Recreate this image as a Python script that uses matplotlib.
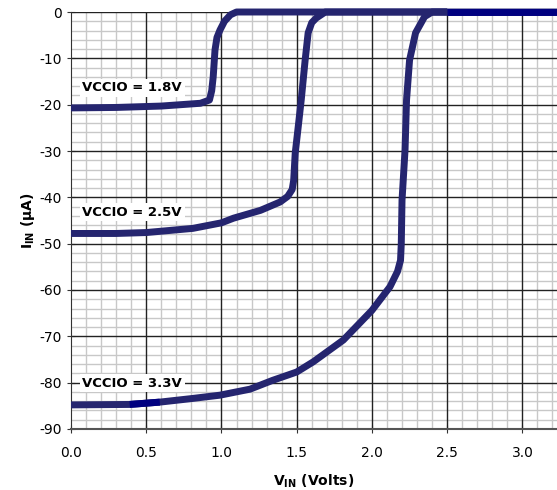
import matplotlib.pyplot as plt
from matplotlib.ticker import MultipleLocator

plt.rcParams["axes.unicode_minus"] = False

# input current vs input voltage, one curve per VCCIO
x18 = [0, 0.3, 0.6, 0.86, 0.92, 0.935, 0.945, 0.957, 0.97, 0.99, 1.02, 1.06, 1.10, 1.5, 2.0, 2.5]
y18 = [-20.7, -20.6, -20.3, -19.7, -19.0, -17.0, -14.0, -8.2, -5.5, -3.9, -2.0, -0.6, 0, 0, 0, 0]

x25 = [0, 0.3, 0.5, 0.81, 1.0, 1.08, 1.26, 1.39, 1.44, 1.47, 1.48, 1.49, 1.51, 1.53,
       1.556, 1.576, 1.60, 1.63, 1.69, 2.0, 2.5]
y25 = [-47.8, -47.8, -47.6, -46.7, -45.5, -44.5, -42.8, -41.0, -39.8, -38.3, -36.3, -30.5,
       -24.8, -19.0, -10.4, -4.5, -2.3, -1.3, 0, 0, 0]

x33 = [0, 0.39, 0.59, 0.81, 0.99, 1.19, 1.34, 1.50, 1.61, 1.81, 2.0, 2.12, 2.17, 2.19,
       2.195, 2.20, 2.22, 2.23, 2.25, 2.29, 2.35, 2.40, 2.5, 3.23]
y33 = [-84.8, -84.7, -84.2, -83.4, -82.7, -81.4, -79.5, -77.7, -75.5, -70.8, -64.4, -59.3,
       -56.0, -53.6, -50.0, -40.6, -29.8, -19.0, -10.4, -4.5, -1.0, 0, 0, 0]

# darker overlapping pieces seen in the original
x_dark_top = [2.5, 3.23]
y_dark_top = [0, 0]
x_dark_low = [0.39, 0.59]
y_dark_low = [-84.7, -84.2]

labels = ["VCCIO = 1.8V", "VCCIO = 2.5V", "VCCIO = 3.3V"]
label_y = [-16.4, -43.2, -80.1]

line_color = "#25256f"
dark_color = "#000080"

fig = plt.figure(figsize=(5.57, 4.90), dpi=100)
ax = fig.add_axes([0.1275, 0.1245, 0.8725, 0.851])

for xs, ys in [(x33, y33), (x25, y25), (x18, y18)]:
    ax.plot(xs, ys, color=line_color, linewidth=5, solid_capstyle="butt",
            solid_joinstyle="round", clip_on=False, zorder=3)
ax.plot(x_dark_top, y_dark_top, color=dark_color, linewidth=5, solid_capstyle="butt",
        clip_on=False, zorder=4)
ax.plot(x_dark_low, y_dark_low, color=dark_color, linewidth=5, solid_capstyle="butt",
        clip_on=False, zorder=4)

for txt, yy in zip(labels, label_y):
    ax.text(0.075, yy, txt, fontsize=9.5, fontweight="bold", va="center", ha="left",
            bbox=dict(facecolor="white", edgecolor="none", pad=2), zorder=5)

ax.set_xlim(0, 3.23)
ax.set_ylim(-90, 0)
ax.xaxis.set_major_locator(MultipleLocator(0.5))
ax.xaxis.set_minor_locator(MultipleLocator(0.1))
ax.yaxis.set_major_locator(MultipleLocator(10))
ax.yaxis.set_minor_locator(MultipleLocator(2))
ax.xaxis.set_major_formatter(plt.FormatStrFormatter("%.1f"))

# light minor grid, dark major grid drawn on top of it
ax.grid(which="minor", color="#c8c8c8", linewidth=1.0, zorder=0)
for xv in ax.get_xticks():
    if 0 < xv <= 3.23:
        ax.axvline(xv, color="#222222", linewidth=1.0, zorder=1)
for yv in ax.get_yticks():
    if -90 < yv <= 0:
        ax.axhline(yv, color="#222222", linewidth=1.0, zorder=1)
ax.set_axisbelow(True)

ax.tick_params(which="major", direction="inout", length=6, labelsize=10, color="#333333")
ax.tick_params(which="minor", length=0)
ax.tick_params(axis="x", pad=9)

for side in ["top", "right"]:
    ax.spines[side].set_visible(False)
ax.spines["left"].set_color("#333333")
ax.spines["bottom"].set_color("#555555")
ax.spines["bottom"].set_linewidth(1.5)

ax.set_xlabel(r"V$_{\mathbf{IN}}$ (Volts)", fontsize=10, fontweight="bold", labelpad=9)
ax.set_ylabel(r"I$_{\mathbf{IN}}$ ($\mathbf{\mu}$A)", fontsize=10, fontweight="bold", labelpad=2)

fig.savefig("out.png", dpi=100)
